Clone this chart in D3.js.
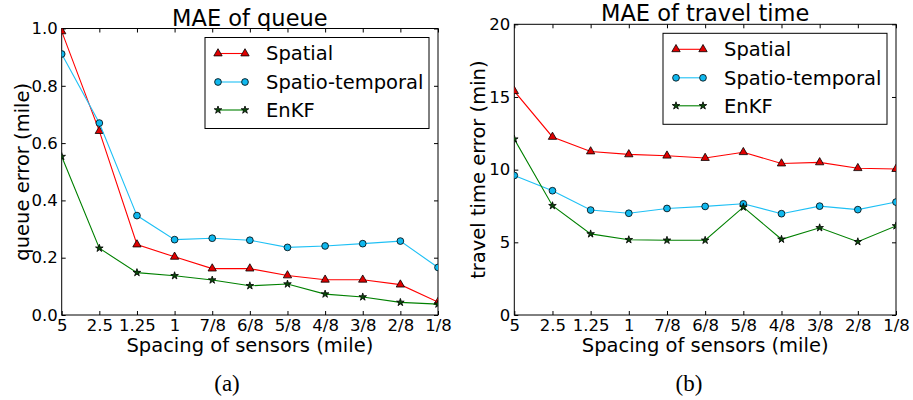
<!DOCTYPE html>
<html>
<head>
<meta charset="utf-8">
<script src="https://cdn.jsdelivr.net/npm/d3@7"></script>
<style>
  body { margin: 0; background: #fff; }
  svg { display: block; }
  text { font-family: "DejaVu Sans", sans-serif; fill: #000; }
  .caption { font-family: "Liberation Serif", "DejaVu Serif", serif; }
</style>
</head>
<body>
<div id="chart"></div>
<script>
// categories on the x axis (sensor spacing, mile)
var spacing = ["5", "2.5", "1.25", "1", "7/8", "6/8", "5/8", "4/8", "3/8", "2/8", "1/8"];

// (a) MAE of queue (mile)
var queueSpatial  = [0.99, 0.642, 0.246, 0.203, 0.162, 0.162, 0.138, 0.123, 0.123, 0.106, 0.045];
var queueTemporal = [0.911, 0.670, 0.347, 0.263, 0.268, 0.261, 0.236, 0.241, 0.249, 0.258, 0.166];
var queueEnKF     = [0.553, 0.233, 0.148, 0.137, 0.122, 0.102, 0.108, 0.073, 0.063, 0.044, 0.038];
var queueTicks = [0.0, 0.2, 0.4, 0.6, 0.8, 1.0];

// (b) MAE of travel time (min)
var travelSpatial  = [15.4, 12.25, 11.25, 11.05, 10.96, 10.8, 11.2, 10.42, 10.5, 10.1, 10.04];
var travelTemporal = [9.6, 8.55, 7.22, 7.0, 7.33, 7.47, 7.65, 6.97, 7.49, 7.25, 7.77];
var travelEnKF     = [12.1, 7.52, 5.58, 5.18, 5.14, 5.14, 7.42, 5.21, 6.0, 5.04, 6.13];
var travelTicks = [0, 5, 10, 15, 20];

var seriesNames = ["Spatial", "Spatio-temporal", "EnKF"];

const W = 913, H = 400;

const svg = d3.select("#chart")
    .append("svg")
    .attr("width", W)
    .attr("height", H);

// marker styles per series
const styles = [
    {line: "#ff0000", fill: "#e00000", symbol: d3.symbolTriangle, size: 30},
    {line: "#1ec0f5", fill: "#10b8ee", symbol: d3.symbolCircle, size: 36},
    {line: "#008000", fill: "#0a4a0a", symbol: d3.symbolStar, size: 18}
];

drawPanel({
    id: "a",
    left: 61.7, right: 438, top: 28.5, bottom: 315,
    title: "MAE of queue",
    yLabel: "queue error (mile)",
    yLabelX: 29,
    domain: [0, 1],
    ticks: queueTicks,
    fmt: d3.format(".1f"),
    series: [queueSpatial, queueTemporal, queueEnKF],
    caption: "(a)", captionX: 227
});

drawPanel({
    id: "b",
    left: 514.3, right: 896, top: 24.3, bottom: 315,
    title: "MAE of travel time",
    yLabel: "travel time error (min)",
    yLabelX: 485,
    domain: [0, 20],
    ticks: travelTicks,
    fmt: d3.format("d"),
    series: [travelSpatial, travelTemporal, travelEnKF],
    caption: "(b)", captionX: 689
});

function drawPanel(cfg) {
    const g = svg.append("g");
    const w = cfg.right - cfg.left, h = cfg.bottom - cfg.top;

    // scales
    const xScale = d3.scalePoint()
        .domain(spacing)
        .range([cfg.left, cfg.right])
        .padding(0);

    const yScale = d3.scaleLinear()
        .domain(cfg.domain)
        .range([cfg.bottom, cfg.top]);

    // clip to the axes box like matplotlib
    g.append("clipPath")
        .attr("id", "clip-" + cfg.id)
        .append("rect")
        .attr("x", cfg.left).attr("y", cfg.top)
        .attr("width", w).attr("height", h);

    // axes with inward ticks on all four sides
    const xAxis = d3.axisBottom(xScale).tickSizeInner(-4).tickSizeOuter(0).tickPadding(4);
    const yAxis = d3.axisLeft(yScale).tickValues(cfg.ticks).tickFormat(cfg.fmt)
        .tickSizeInner(-4).tickSizeOuter(0).tickPadding(4);

    const xg = g.append("g")
        .attr("transform", `translate(0, ${cfg.bottom})`)
        .call(xAxis);
    const yg = g.append("g")
        .attr("transform", `translate(${cfg.left}, 0)`)
        .call(yAxis);
    g.append("g")
        .attr("transform", `translate(0, ${cfg.top})`)
        .call(d3.axisTop(xScale).tickSizeInner(-4).tickSizeOuter(0).tickFormat(""));
    g.append("g")
        .attr("transform", `translate(${cfg.right}, 0)`)
        .call(d3.axisRight(yScale).tickValues(cfg.ticks).tickSizeInner(-4).tickSizeOuter(0).tickFormat(""));

    g.selectAll(".domain").remove();
    g.selectAll(".tick line").attr("stroke", "#000");
    xg.selectAll("text").style("font-size", "16.5px");
    yg.selectAll("text").style("font-size", "16.5px");

    // frame
    g.append("rect")
        .attr("x", cfg.left).attr("y", cfg.top)
        .attr("width", w).attr("height", h)
        .attr("fill", "none")
        .attr("stroke", "#000")
        .attr("stroke-width", 1);

    // lines and markers
    const plot = g.append("g").attr("clip-path", `url(#clip-${cfg.id})`);
    const line = d3.line()
        .x((d, i) => xScale(spacing[i]))
        .y(d => yScale(d));

    cfg.series.forEach(function(values, k) {
        const st = styles[k];
        plot.append("path")
            .attr("d", line(values))
            .attr("fill", "none")
            .attr("stroke", st.line)
            .attr("stroke-width", 1.1);
        plot.selectAll(".m" + k)
            .data(values)
            .join("path")
            .attr("class", "m" + k)
            .attr("transform", (d, i) => `translate(${xScale(spacing[i])}, ${yScale(d)})`)
            .attr("d", d3.symbol().type(st.symbol).size(st.size))
            .attr("fill", st.fill)
            .attr("stroke", "#000")
            .attr("stroke-width", 0.8);
    });

    // title
    g.append("text")
        .attr("x", (cfg.left + cfg.right) / 2)
        .attr("y", cfg.top - 3)
        .attr("text-anchor", "middle")
        .style("font-size", "22.5px")
        .text(cfg.title);

    // x label
    g.append("text")
        .attr("x", (cfg.left + cfg.right) / 2)
        .attr("y", 351.5)
        .attr("text-anchor", "middle")
        .style("font-size", "19.5px")
        .text("Spacing of sensors (mile)");

    // y label
    g.append("text")
        .attr("transform", `translate(${cfg.yLabelX}, ${(cfg.top + cfg.bottom) / 2}) rotate(-90)`)
        .attr("text-anchor", "middle")
        .style("font-size", "19.5px")
        .text(cfg.yLabel);

    // legend, upper right
    const lw = 224, lh = 91;
    const lx = cfg.right - 9 - lw, ly = cfg.top + 9;
    const legend = g.append("g").attr("transform", `translate(${lx}, ${ly})`);
    legend.append("rect")
        .attr("width", lw).attr("height", lh)
        .attr("fill", "#fff")
        .attr("stroke", "#000")
        .attr("stroke-width", 1);

    const rows = [16, 44.5, 72.5];
    seriesNames.forEach(function(name, k) {
        const st = styles[k];
        const row = legend.append("g").attr("transform", `translate(0, ${rows[k]})`);
        row.append("line")
            .attr("x1", 13).attr("x2", 40)
            .attr("stroke", st.line)
            .attr("stroke-width", 1.1);
        [13, 40].forEach(function(px) {
            row.append("path")
                .attr("transform", `translate(${px}, 0)`)
                .attr("d", d3.symbol().type(st.symbol).size(st.size))
                .attr("fill", st.fill)
                .attr("stroke", "#000")
                .attr("stroke-width", 0.8);
        });
        row.append("text")
            .attr("x", 61)
            .attr("dy", "0.35em")
            .style("font-size", "19.5px")
            .text(name);
    });

    // caption
    svg.append("text")
        .attr("class", "caption")
        .attr("x", cfg.captionX)
        .attr("y", 391)
        .attr("text-anchor", "middle")
        .style("font-size", "23px")
        .text(cfg.caption);
}
</script>
</body>
</html>
